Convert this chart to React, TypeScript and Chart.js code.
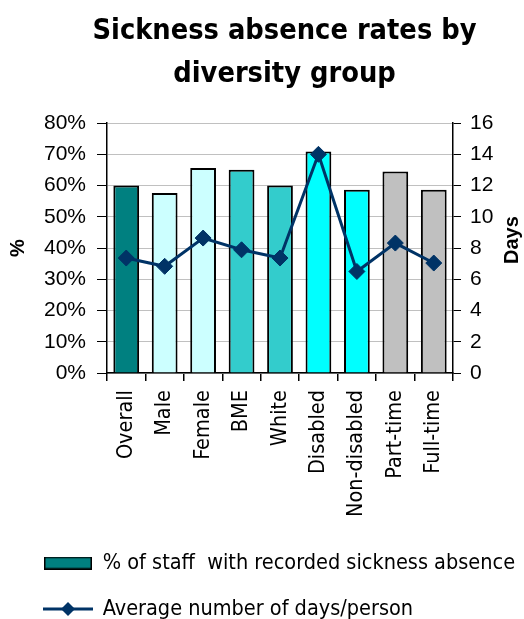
import React, { useEffect, useRef } from "react";
import { Chart, registerables } from "chart.js";

Chart.register(...registerables);

const categories = ["Overall", "Male", "Female", "BME", "White", "Disabled", "Non-disabled", "Part-time", "Full-time"];
const pctStaffWithAbsence = [60, 57.6, 65.6, 65.1, 60, 70.9, 58.7, 64.5, 58.7];
const avgDaysPerPerson = [7.36, 6.83, 8.64, 7.89, 7.36, 14.0, 6.5, 8.32, 7.04];
const barColors = ["#008080", "#CCFFFF", "#CCFFFF", "#33CCCC", "#33CCCC", "#00FFFF", "#00FFFF", "#C0C0C0", "#C0C0C0"];
const titleLines = ["Sickness absence rates by", "diversity group"];
const barLabel = "% of staff  with recorded sickness absence";
const lineLabel = "Average number of days/person";
const leftAxisTitle = "%";
const rightAxisTitle = "Days";

const LABEL_FONT = '"DejaVu Sans Condensed", "DejaVu Sans", sans-serif';
const AXIS_FONT = '"Liberation Sans", Arial, sans-serif';
const LINE_COLOR = "#003366";

function makeBoxImage(): HTMLCanvasElement {
  const c = document.createElement("canvas");
  c.width = 48;
  c.height = 13;
  const g = c.getContext("2d")!;
  g.fillStyle = barColors[0];
  g.fillRect(0, 0, 48, 13);
  g.strokeStyle = "#000";
  g.lineWidth = 1.5;
  g.strokeRect(0.75, 0.75, 46.5, 11.5);
  return c;
}

function makeLineImage(): HTMLCanvasElement {
  const c = document.createElement("canvas");
  c.width = 50;
  c.height = 16;
  const g = c.getContext("2d")!;
  g.strokeStyle = LINE_COLOR;
  g.lineWidth = 3;
  g.beginPath();
  g.moveTo(0, 8);
  g.lineTo(50, 8);
  g.stroke();
  g.fillStyle = LINE_COLOR;
  g.beginPath();
  g.moveTo(25 - 7, 8);
  g.lineTo(25, 1);
  g.lineTo(25 + 7, 8);
  g.lineTo(25, 15);
  g.closePath();
  g.fill();
  return c;
}

export default function App() {
  const ref = useRef<HTMLCanvasElement | null>(null);

  useEffect(() => {
    document.body.style.margin = "0";
    const canvas = ref.current!;
    const boxImg = makeBoxImage();
    const lineImg = makeLineImage();

    const shiftPlugin = {
      id: "shiftBlocks",
      afterLayout(chart: any) {
        if (chart.titleBlock) {
          chart.titleBlock.left += 45;
        }
        if (chart.legend) {
          chart.legend.left += 19.5;
          chart.legend.right += 19.5;
        }
      },
      afterDraw(chart: any) {
        const ctx = chart.ctx;
        const y1 = chart.scales.y1;
        const area = chart.chartArea;
        ctx.save();
        ctx.font = 'bold 20px "Liberation Sans", Arial, sans-serif';
        ctx.fillStyle = "#000";
        ctx.textAlign = "center";
        ctx.textBaseline = "middle";
        ctx.translate(y1.right - 12, (area.top + area.bottom) / 2 - 8);
        ctx.rotate(-Math.PI / 2);
        ctx.fillText(rightAxisTitle, 0, 0);
        ctx.restore();
      },
    };

    const chart = new Chart(canvas, {
      type: "bar",
      data: {
        labels: categories,
        datasets: [
          {
            type: "bar",
            label: barLabel,
            data: pctStaffWithAbsence,
            backgroundColor: barColors,
            borderColor: "#000",
            borderWidth: 2,
            barPercentage: 0.67,
            categoryPercentage: 1,
            yAxisID: "y",
            order: 1,
          } as any,
          {
            type: "line",
            label: lineLabel,
            data: avgDaysPerPerson,
            borderColor: LINE_COLOR,
            backgroundColor: LINE_COLOR,
            borderWidth: 3,
            pointStyle: "rectRot",
            pointRadius: 8,
            pointBackgroundColor: LINE_COLOR,
            pointBorderColor: LINE_COLOR,
            pointBorderWidth: 1,
            tension: 0,
            yAxisID: "y1",
            order: 0,
          } as any,
        ],
      },
      options: {
        responsive: false,
        animation: false,
        layout: { padding: 0 },
        plugins: {
          tooltip: { enabled: false },
          title: {
            display: true,
            text: titleLines,
            color: "#000",
            font: { family: LABEL_FONT, size: 28.7, weight: "bold", lineHeight: 1.5 },
            padding: { top: 10, bottom: 27 },
          },
          legend: {
            display: true,
            position: "bottom",
            align: "start",
            maxHeight: 91.25,
            labels: {
              usePointStyle: true,
              pointStyleWidth: 48,
              padding: 24.5,
              color: "#000",
              font: { family: LABEL_FONT, size: 21.5 },
              generateLabels: () => [
                { text: barLabel, pointStyle: boxImg, fillStyle: barColors[0], strokeStyle: "#000", lineWidth: 0, hidden: false, datasetIndex: 0 },
                { text: lineLabel, pointStyle: lineImg, fillStyle: LINE_COLOR, strokeStyle: LINE_COLOR, lineWidth: 0, hidden: false, datasetIndex: 1 },
              ] as any,
            },
          },
        },
        scales: {
          x: {
            afterFit: (s: any) => {
              s.height = 154.75;
            },
            grid: {
              offset: true,
              drawOnChartArea: false,
              drawTicks: true,
              tickLength: 8,
              color: "#000",
              tickColor: "#000",
              lineWidth: 1.5,
            },
            border: { color: "#000", width: 1.5 },
            ticks: {
              autoSkip: false,
              minRotation: 90,
              maxRotation: 90,
              padding: 9,
              color: "#000",
              font: { family: LABEL_FONT, size: 21.5 },
            },
          },
          y: {
            position: "left",
            min: 0,
            max: 80,
            afterFit: (s: any) => {
              s.width = 107;
            },
            grid: {
              color: "#C0C0C0",
              tickColor: "#000",
              tickLength: 10,
              lineWidth: 1,
            },
            border: { color: "#000", width: 1.5 },
            ticks: {
              stepSize: 10,
              padding: 11,
              color: "#000",
              font: { family: AXIS_FONT, size: 21 },
              callback: (v: any) => v + "%",
            },
            title: {
              display: true,
              text: leftAxisTitle,
              color: "#000",
              font: { family: AXIS_FONT, size: 20, weight: "bold" },
              padding: { top: 6, bottom: 0 },
            },
          },
          y1: {
            position: "right",
            min: 0,
            max: 16,
            afterFit: (s: any) => {
              s.width = 71;
            },
            grid: {
              drawOnChartArea: false,
              color: "#000",
              tickColor: "#000",
              tickLength: 8,
              lineWidth: 1,
            },
            border: { color: "#000", width: 1.5 },
            ticks: {
              stepSize: 2,
              padding: 9,
              color: "#000",
              font: { family: AXIS_FONT, size: 21 },
            },
          },
        },
      } as any,
      plugins: [shiftPlugin],
    });

    return () => {
      chart.destroy();
    };
  }, []);

  return (
    <div style={{ width: 524, height: 619, background: "#fff" }}>
      <canvas ref={ref} width={524} height={619} style={{ display: "block" }} />
    </div>
  );
}
